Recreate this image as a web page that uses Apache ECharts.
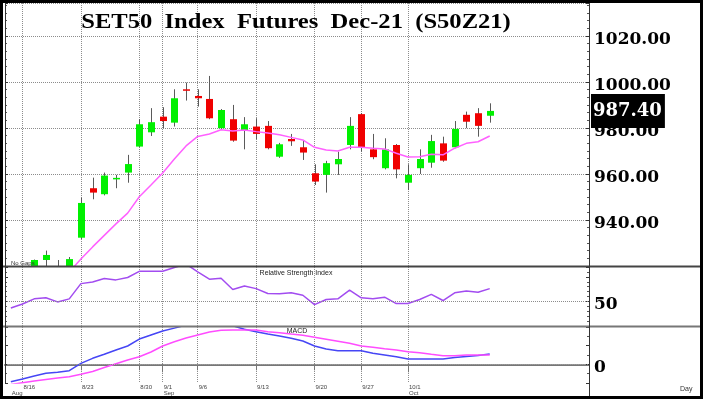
<!DOCTYPE html>
<html>
<head>
<meta charset="utf-8">
<script src="https://cdn.jsdelivr.net/npm/echarts@6/dist/echarts.min.js"></script>
<style>
  html, body { margin: 0; padding: 0; background: #fff; }
  #chart { width: 703px; height: 399px; }
</style>
</head>
<body>
<div id="chart"></div>
<script>
// trading days shown on the chart, plus the empty slots to the right
const dates = ['8/13','8/16','8/17','8/18','8/19','8/20','8/23','8/24','8/25','8/26','8/27',
  '8/30','8/31','9/1','9/2','9/3','9/6','9/7','9/8','9/9','9/10','9/13','9/14','9/15','9/16','9/17',
  '9/20','9/21','9/22','9/23','9/27','9/28','9/29','9/30','10/1','10/4','10/5','10/6','10/7','10/8',
  '10/11','10/12'];
const emptyDates = ['10/14','10/15','10/18','10/19','10/20','10/21','10/25','10/26'];

// S50Z21 daily prices
const opens  = [null, null, 918.5, 922.6, 918.0, 918.0, 932.3, 953.8, 951.2, 957.8, 960.6,
  971.9, 978.1, 984.9, 982.3, 996.8, 993.9, 992.6, 979.9, 983.8, 978.8, 980.6, 980.9, 967.5, 975.2, 971.6,
  960.3, 959.6, 964.2, 972.6, 986.0, 970.7, 962.5, 972.6, 956.2, 962.5, 964.9, 973.3, 971.6, 985.7,
  986.4, 985.3];
const closes = [null, null, 922.6, 924.8, 917.0, 923.0, 947.4, 951.9, 959.3, 958.3, 964.3,
  981.6, 982.5, 983.0, 992.9, 996.2, 992.9, 984.2, 987.8, 974.5, 981.6, 977.4, 971.2, 972.9, 974.2, 969.3,
  956.7, 964.7, 966.5, 980.9, 971.6, 967.3, 970.7, 962.0, 959.6, 966.5, 974.3, 965.8, 979.6, 982.7,
  980.9, 987.4];
const lows   = [null, null, 917.0, 919.0, 915.0, 917.0, 931.7, 949.0, 950.7, 953.8, 956.2,
  971.6, 976.5, 979.9, 980.6, 991.9, 989.3, 983.8, 979.5, 974.0, 970.7, 975.1, 970.7, 967.0, 972.2, 966.1,
  955.2, 951.9, 959.6, 970.7, 969.7, 966.4, 962.0, 958.1, 953.0, 960.0, 962.7, 965.3, 971.2, 979.9,
  976.2, 982.3];
const highs  = [null, null, 922.8, 926.7, 922.6, 923.9, 949.7, 958.4, 960.6, 959.6, 968.3,
  983.8, 988.6, 989.0, 996.8, 999.7, 996.8, 1002.6, 988.2, 990.0, 984.7, 984.2, 983.0, 973.5, 977.4, 974.5,
  964.2, 965.7, 969.7, 984.7, 986.5, 977.4, 975.5, 973.0, 964.2, 970.7, 977.0, 976.2, 983.0, 987.1,
  988.6, 990.7];

// moving average drawn over the candles
const movingAvg = [null, null, null, null, null, 917.4, 923.0, 928.3, 933.3, 938.3, 943.0,
  950.1, 955.2, 960.4, 966.5, 972.2, 976.3, 977.4, 979.2, 978.7, 979.1, 978.4, 977.8, 977.0, 975.9, 974.8,
  971.6, 970.4, 970.0, 971.6, 971.6, 971.2, 970.9, 969.0, 967.4, 967.5, 968.6, 968.3, 971.2, 973.3,
  974.0, 976.5];

// indicators
const rsi = [43.3, 47.4, 52.6, 53.7, 49.5, 52.6, 68.1, 69.8, 73.3, 71.9, 74.3,
  80.6, 80.6, 80.6, 84.5, 88.0, 80.0, 72.6, 73.6, 62.2, 65.7, 63.0, 58.1, 57.8, 58.8, 56.3,
  46.7, 51.9, 52.6, 61.5, 53.7, 52.6, 54.3, 47.8, 47.8, 51.9, 57.1, 50.9, 58.8, 60.5,
  59.4, 63.0];
const macd = [-4.66, -3.94, -3.13, -2.41, -2.14, -1.71, 0.27, 1.61, 2.68, 3.84, 4.91,
  6.78, 7.86, 8.93, 9.7, 10.5, 11.0, 11.2, 10.9, 10.3, 9.4, 8.74, 8.12, 7.59, 6.97, 6.25,
  4.91, 4.10, 3.65, 3.65, 3.65, 2.95, 2.50, 2.04, 1.42, 1.42, 1.42, 1.42, 1.83, 2.10,
  2.36, 2.76];
const signal = [-5.4, -4.93, -4.47, -4.07, -3.67, -3.32, -2.68, -1.93, -0.85, 0.16, 1.16,
  2.04, 3.3, 4.91, 6.06, 7.05, 7.86, 8.66, 9.12, 9.2, 9.2, 9.2, 8.74, 8.47, 8.12, 7.78,
  7.24, 6.7, 6.17, 5.63, 4.91, 4.56, 4.18, 3.84, 3.38, 3.11, 2.68, 2.31, 2.31, 2.5,
  2.5, 2.5];

// labelled ticks
const dayTicks = ['8/16','8/23','8/30','9/1','9/6','9/13','9/20','9/27','10/1'];
const monthTicks = {'8/13': 'Aug', '9/1': 'Sep', '10/1': 'Oct'};
const rsiLevel = 50;
const macdLevel = 0;

const categories = dates.concat(emptyDates);
const ohlc = [];
opens.forEach((o, i) => { if (o != null) ohlc.push([i, o, closes[i], lows[i], highs[i]]); });
const lastClose = closes[closes.length - 1];

const UP = '#00f000', DOWN = '#f00000', WICK = '#5a5a5a';
const dotted = {type: 'dotted', color: '#8c8c8c', width: 1};
const isDay = (i, v) => dayTicks.indexOf(v) >= 0;
const isMonth = (i, v) => monthTicks[v] !== undefined;
const numFont = {fontFamily: 'DejaVu Serif', fontWeight: 'bold', fontSize: 17, color: '#000'};

// one candle: grey wick, filled body with no outline
function renderCandle(params, api) {
  const x = api.value(0);
  const o = api.value(1), c = api.value(2);
  const hi = api.coord([x, api.value(4)]);
  const lo = api.coord([x, api.value(3)]);
  const top = api.coord([x, Math.max(o, c)]);
  const bot = api.coord([x, Math.min(o, c)]);
  const cx = Math.round(hi[0]) + 0.5;
  const w = 7;
  return {
    type: 'group',
    children: [
      {type: 'line', shape: {x1: cx, y1: hi[1], x2: cx, y2: lo[1]}, style: {stroke: WICK, lineWidth: 1}},
      {type: 'rect', shape: {x: cx - w / 2, y: top[1], width: w, height: Math.max(bot[1] - top[1], 1.5)},
        style: {fill: c >= o ? UP : DOWN}}
    ]
  };
}

function plainX(grid) {
  return {
    type: 'category', gridIndex: grid, data: categories, boundaryGap: true,
    axisLine: {show: false}, axisTick: {show: false}, axisLabel: {show: false},
    splitLine: {show: true, alignWithLabel: true, interval: isDay, lineStyle: dotted}
  };
}

function sideY(grid, pos, min, max, interval, minor, fmt, split) {
  return {
    type: 'value', gridIndex: grid, position: pos, min: min, max: max, interval: interval,
    axisLine: {show: false},
    axisTick: {show: true, inside: true, length: 3, lineStyle: {color: '#333'}},
    minorTick: {show: true, splitNumber: minor, length: 2, lineStyle: {color: '#555'}},
    axisLabel: fmt
      ? Object.assign({formatter: fmt, margin: 5, verticalAlign: 'top', lineHeight: 7}, numFont)
      : {show: false},
    splitLine: {show: !!split, lineStyle: dotted}
  };
}

const option = {
  animation: false,
  grid: [
    {left: 5, right: 114, top: 3, height: 263},
    {left: 5, right: 114, top: 267, height: 59},
    {left: 5, right: 114, top: 327, height: 56}
  ],
  xAxis: [
    plainX(0),
    plainX(1),
    Object.assign(plainX(2), {
      axisLine: {show: true, lineStyle: {color: '#777', width: 2}},
      axisTick: {show: true, alignWithLabel: true, interval: isDay, length: 6, lineStyle: {color: '#777'}},
      axisLabel: {show: true, interval: isDay, align: 'left', margin: 1, padding: [0, 0, 0, 1],
        fontFamily: 'Liberation Sans', fontSize: 6, color: '#444'}
    }),
    {
      type: 'category', gridIndex: 2, data: categories, boundaryGap: true, position: 'bottom', offset: 6,
      axisLine: {show: true, lineStyle: {color: '#999', width: 1}},
      axisTick: {show: true, alignWithLabel: true, interval: (i, v) => v === '9/1' || v === '10/1', length: 8, lineStyle: {color: '#777'}},
      axisLabel: {show: true, interval: isMonth, formatter: v => monthTicks[v] || '', align: 'left', margin: 1,
        padding: [0, 0, 0, 1], fontFamily: 'Liberation Sans', fontSize: 6, color: '#444'},
      splitLine: {show: false}
    }
  ],
  yAxis: [
    sideY(0, 'right', 920, 1034.3, 20, 6, v => (v > 920 && v % 20 === 0) ? v.toFixed(2) : '', true),
    sideY(1, 'right', 25, 85, 25, 5, v => v === rsiLevel ? String(v) : ''),
    sideY(2, 'right', -5, 10, 5, 2, v => v === macdLevel ? String(v) : ''),
    sideY(0, 'left', 920, 1034.3, 20, 6),
    sideY(1, 'left', 25, 85, 25, 5),
    sideY(2, 'left', -5, 10, 5, 2)
  ],
  series: [
    {
      name: 'S50Z21', type: 'custom', xAxisIndex: 0, yAxisIndex: 0, data: ohlc,
      encode: {x: 0, y: [1, 2, 3, 4]}, clip: true, renderItem: renderCandle,
      markLine: {
        silent: true, symbol: 'none', z: 10,
        data: [{yAxis: lastClose}],
        lineStyle: {color: 'transparent'},
        label: Object.assign({position: 'end', distance: 2, formatter: p => p.value.toFixed(2),
          backgroundColor: '#000', padding: [8, 3, 8, 2]}, numFont, {color: '#fff', fontSize: 18})
      }
    },
    {
      name: 'MA', type: 'line', xAxisIndex: 0, yAxisIndex: 0, data: movingAvg,
      symbol: 'none', clip: true, lineStyle: {color: '#ff60ff', width: 1.5}
    },
    {
      name: 'RSI', type: 'line', xAxisIndex: 1, yAxisIndex: 1, data: rsi,
      symbol: 'none', clip: true, lineStyle: {color: '#a24cf0', width: 1.5},
      markLine: {silent: true, symbol: 'none', label: {show: false}, lineStyle: dotted, data: [{yAxis: rsiLevel}]}
    },
    {
      name: 'MACD', type: 'line', xAxisIndex: 2, yAxisIndex: 2, data: macd,
      symbol: 'none', clip: true, lineStyle: {color: '#4646f5', width: 1.5},
      markLine: {silent: true, symbol: 'none', label: {show: false}, lineStyle: dotted, data: [{yAxis: macdLevel}]}
    },
    {
      name: 'Signal', type: 'line', xAxisIndex: 2, yAxisIndex: 2, data: signal,
      symbol: 'none', clip: true, lineStyle: {color: '#ff4cff', width: 1.5}
    }
  ],
  graphic: [
    {type: 'line', shape: {x1: 0, y1: 266.5, x2: 703, y2: 266.5}, style: {stroke: '#444', lineWidth: 2}, z: 50},
    {type: 'line', shape: {x1: 0, y1: 326.5, x2: 703, y2: 326.5}, style: {stroke: '#777', lineWidth: 2}, z: 50},
    {type: 'line', shape: {x1: 589.5, y1: 0, x2: 589.5, y2: 399}, style: {stroke: '#333', lineWidth: 1}, z: 50},
    {type: 'line', shape: {x1: 5.5, y1: 0, x2: 5.5, y2: 383}, style: {stroke: '#333', lineWidth: 1}, z: 50},
    {type: 'rect', shape: {x: 1.5, y: 1.5, width: 700, height: 396}, style: {stroke: '#000', lineWidth: 3, fill: null}, z: 60},
    {
      type: 'text', x: 296, y: 23, scaleX: 1.17, z: 50,
      style: {text: 'SET50  Index  Futures  Dec-21  (S50Z21)', font: 'bold 21px "Liberation Serif"',
        fill: '#000', align: 'center', verticalAlign: 'middle'}
    },
    {type: 'text', x: 296, y: 273, z: 50,
      style: {text: 'Relative Strength Index', font: '7px "Liberation Sans"', fill: '#222', align: 'center', verticalAlign: 'middle'}},
    {type: 'text', x: 297, y: 331, z: 50,
      style: {text: 'MACD', font: '7px "Liberation Sans"', fill: '#222', align: 'center', verticalAlign: 'middle'}},
    {type: 'text', x: 11, y: 263, z: 50,
      style: {text: 'No Gaps', font: '6px "Liberation Sans"', fill: '#333', align: 'left', verticalAlign: 'middle'}},
    {type: 'text', x: 680, y: 389, z: 50,
      style: {text: 'Day', font: '7px "Liberation Sans"', fill: '#333', align: 'left', verticalAlign: 'middle'}}
  ]
};

const chart = echarts.init(document.getElementById('chart'));
chart.setOption(option);
</script>
</body>
</html>
